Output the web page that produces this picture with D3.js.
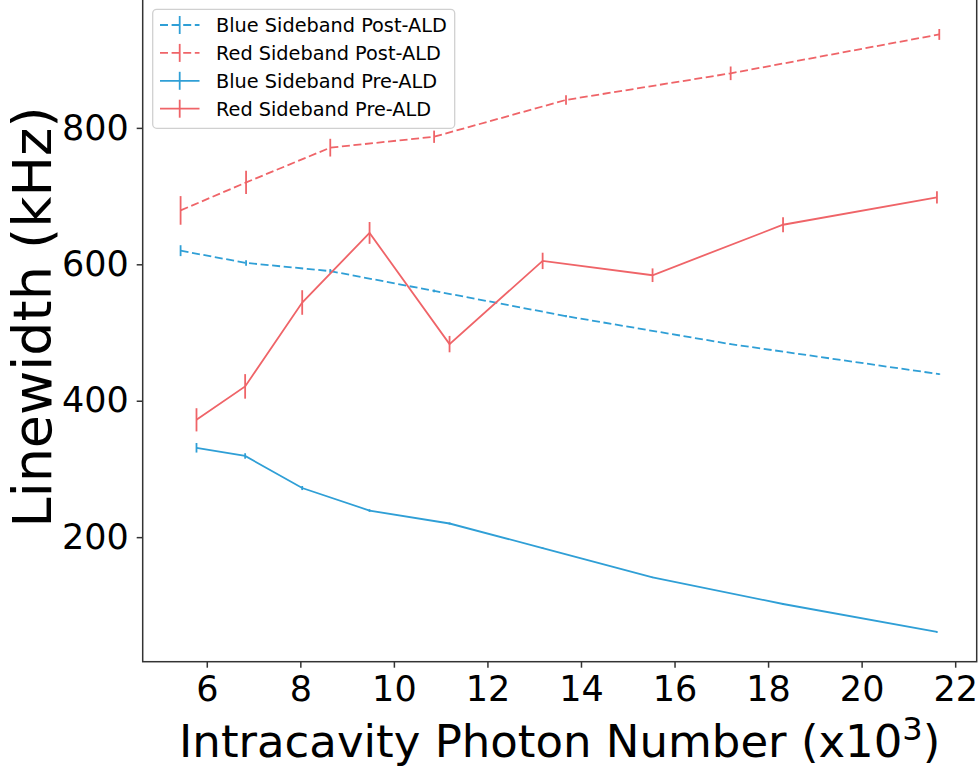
<!DOCTYPE html>
<html>
<head>
<meta charset="utf-8">
<script src="https://cdn.jsdelivr.net/npm/d3@7"></script>
<style>
  html, body { margin: 0; padding: 0; background: #fff; }
  svg { display: block; font-family: "DejaVu Sans", sans-serif; }
</style>
</head>
<body>
<svg id="chart" width="980" height="769"></svg>
<script>
// Photon numbers (x10^3) for the two measurement runs
const postX = [5.44, 6.84, 8.64, 10.86, 13.68, 17.2, 21.66];
const preX = [5.78, 6.82, 8.04, 9.48, 11.19, 13.18, 15.53, 18.32, 21.61];

// Linewidths (kHz) and their uncertainties
const bluePost = [620, 602, 590, 561, 524, 483, 439];
const bluePostErr = [8, 4, 3, 2, 1.5, 1, 1];
const redPost = [679, 720, 771, 787, 841, 880, 937];
const redPostErr = [21, 17, 13, 9, 7, 10, 8];
const bluePre = [331, 319, 272, 239, 220, 184, 141, 102, 61];
const bluePreErr = [7, 4, 3, 2, 1.5, 1, 1, 1, 1];
const redPre = [372, 421, 544, 646, 483, 605, 584, 658, 698];
const redPreErr = [17, 18, 18, 16, 12, 12, 10, 11, 9];

const xTicks = [6, 8, 10, 12, 14, 16, 18, 20, 22];
const yTicks = [200, 400, 600, 800];

const BLUE = "#2f9fd6";
const RED = "#ef6468";

const series = [
  { name: "Blue Sideband Post-ALD", x: postX, y: bluePost, err: bluePostErr, color: BLUE, dashed: true },
  { name: "Red Sideband Post-ALD", x: postX, y: redPost, err: redPostErr, color: RED, dashed: true },
  { name: "Blue Sideband Pre-ALD", x: preX, y: bluePre, err: bluePreErr, color: BLUE, dashed: false },
  { name: "Red Sideband Pre-ALD", x: preX, y: redPre, err: redPreErr, color: RED, dashed: false }
];

const svg = d3.select("#chart");
const plotLeft = 142.7, plotRight = 976.7, plotBottom = 661.7, plotTop = -0.9;

const x = d3.scaleLinear().domain([4.63, 22.46]).range([plotLeft, plotRight]);
const y = d3.scaleLinear().domain([17.4, 988.8]).range([plotBottom, plotTop]);

const LW = 1.8;
const DASH = "8,3.6";

// data lines and error bars
series.forEach(s => {
  const pts = s.x.map((v, i) => [v, s.y[i], s.err[i]]);
  svg.append("path")
    .datum(pts)
    .attr("fill", "none")
    .attr("stroke", s.color)
    .attr("stroke-width", LW)
    .attr("stroke-dasharray", s.dashed ? DASH : null)
    .attr("d", d3.line().x(d => x(d[0])).y(d => y(d[1])));
  svg.append("g").selectAll("line")
    .data(pts)
    .join("line")
    .attr("x1", d => x(d[0])).attr("x2", d => x(d[0]))
    .attr("y1", d => y(d[1] - d[2])).attr("y2", d => y(d[1] + d[2]))
    .attr("stroke", s.color)
    .attr("stroke-width", LW);
});

// axes
const xAxis = svg.append("g")
  .attr("transform", `translate(0,${plotBottom})`)
  .call(d3.axisBottom(x).tickValues(xTicks).tickSize(6).tickPadding(8).tickFormat(d3.format("d")));
const yAxis = svg.append("g")
  .attr("transform", `translate(${plotLeft},0)`)
  .call(d3.axisLeft(y).tickValues(yTicks).tickSize(6).tickPadding(8).tickFormat(d3.format("d")));

[xAxis, yAxis].forEach(g => {
  g.select(".domain").remove();
  g.selectAll(".tick line").attr("stroke", "#333").attr("stroke-width", 1.5);
  g.selectAll(".tick text").attr("fill", "#000").style("font-size", "35px").style("font-family", "DejaVu Sans");
});

// spines
svg.append("rect")
  .attr("x", plotLeft).attr("y", plotTop)
  .attr("width", plotRight - plotLeft).attr("height", plotBottom - plotTop)
  .attr("fill", "none").attr("stroke", "#333").attr("stroke-width", 1.5);

// axis labels
const xl = svg.append("text")
  .attr("x", (plotLeft + plotRight) / 2).attr("y", 757)
  .attr("text-anchor", "middle")
  .style("font-size", "45px").attr("fill", "#000");
xl.append("tspan").text("Intracavity Photon Number (x10");
xl.append("tspan").attr("dy", -17).style("font-size", "32px").text("3");
xl.append("tspan").attr("dy", 17).text(")");

svg.append("text")
  .attr("transform", `translate(51,317) rotate(-90)`)
  .attr("text-anchor", "middle")
  .style("font-size", "54px").attr("fill", "#000")
  .text("Linewidth (kHz)");

// legend
const lg = svg.append("g");
lg.append("rect")
  .attr("x", 152.7).attr("y", 9.3).attr("width", 302).attr("height", 119)
  .attr("rx", 4).attr("fill", "#fff").attr("fill-opacity", 0.8)
  .attr("stroke", "#d0d0d0").attr("stroke-width", 1.3);
series.forEach((s, i) => {
  const cy = 25 + i * 27.9;
  lg.append("line")
    .attr("x1", 160).attr("x2", 199.5).attr("y1", cy).attr("y2", cy)
    .attr("stroke", s.color).attr("stroke-width", LW)
    .attr("stroke-dasharray", s.dashed ? DASH : null);
  lg.append("line")
    .attr("x1", 179.7).attr("x2", 179.7).attr("y1", cy - 9).attr("y2", cy + 9)
    .attr("stroke", s.color).attr("stroke-width", LW);
  lg.append("text")
    .attr("x", 216).attr("y", cy + 7)
    .style("font-size", "19.3px").attr("fill", "#000")
    .text(s.name);
});
</script>
</body>
</html>
